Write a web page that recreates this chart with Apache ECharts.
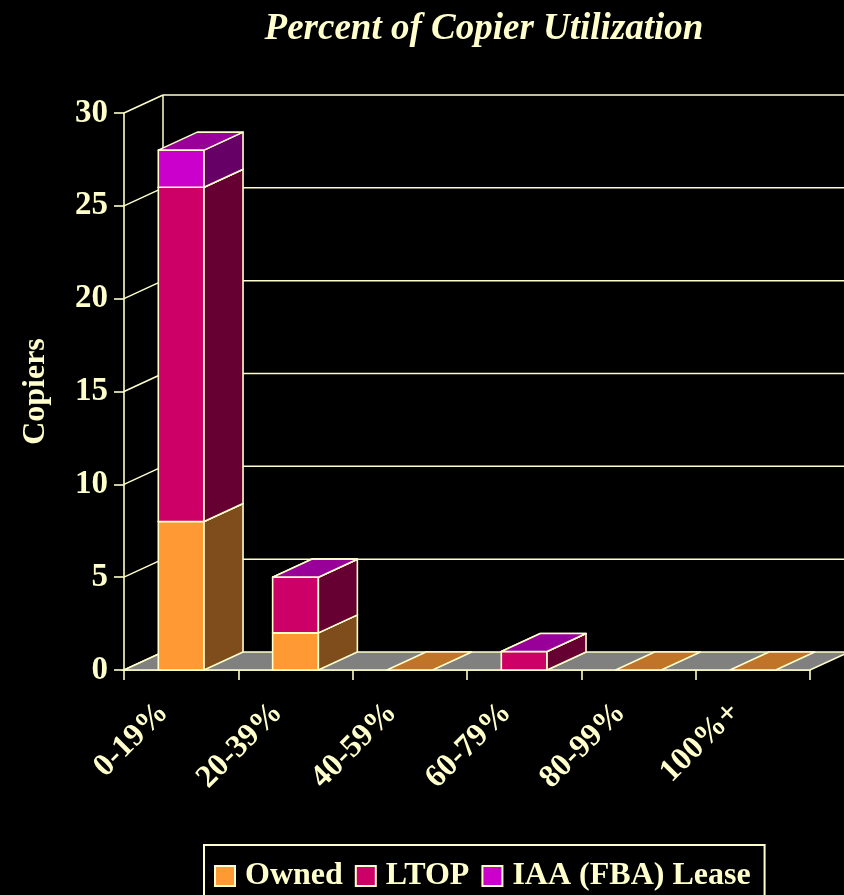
<!DOCTYPE html>
<html>
<head>
<meta charset="utf-8">
<script src="https://cdn.jsdelivr.net/npm/echarts@6/dist/echarts.min.js"></script>
<style>
  html, body { margin: 0; padding: 0; background: #000; }
  #chart { width: 844px; height: 895px; }
</style>
</head>
<body>
<div id="chart"></div>
<script>
// Copier counts per utilization band
const categories = ['0-19%', '20-39%', '40-59%', '60-79%', '80-99%', '100%+'];
const owned = [8, 2, 0, 0, 0, 0];
const ltop  = [18, 3, null, 1, null, null];
const iaa   = [2, 0, null, 0, null, null];
const yTicks = [0, 5, 10, 15, 20, 25, 30];

const INK = '#FFFFCC';
const FONT = '"Liberation Serif", "Times New Roman", serif';
const DX = 39, DY = -18;       // depth offset of the 3D box
const BAR_RATIO = 0.4;

// stack segments: [categoryIndex, bottom, top]
function stackSegments(layer, below) {
  const out = [];
  layer.forEach((v, i) => {
    if (v === null) return;
    let base = 0;
    below.forEach(arr => { if (arr[i] !== null) base += arr[i]; });
    out.push([i, base, base + v]);
  });
  return out;
}

function boxRenderer(front, side, top) {
  return function (params, api) {
    const ci = api.value(0);
    const p0 = api.coord([ci, api.value(1)]);
    const p1 = api.coord([ci, api.value(2)]);
    const bw = api.size([1, 0])[0] * BAR_RATIO;
    const xL = p0[0] - bw / 2, xR = p0[0] + bw / 2, yB = p0[1], yT = p1[1];
    const st = (fill) => ({ fill: fill, stroke: INK, lineWidth: 1.6, lineJoin: 'round' });
    const children = [];
    if (yB - yT > 0.5) {
      children.push({ type: 'polygon', shape: { points: [[xL, yB], [xR, yB], [xR, yT], [xL, yT]] }, style: st(front) });
      children.push({ type: 'polygon', shape: { points: [[xR, yB], [xR + DX, yB + DY], [xR + DX, yT + DY], [xR, yT]] }, style: st(side) });
    }
    children.push({ type: 'polygon', shape: { points: [[xL, yT], [xR, yT], [xR + DX, yT + DY], [xL + DX, yT + DY]] }, style: st(top) });
    return { type: 'group', children: children };
  };
}

// back wall grid lines and their connectors to the front axis
function wallRenderer(params, api) {
  const v = api.value(1);
  const bw = api.size([1, 0])[0];
  const pL = api.coord([0, v]);
  const pR = api.coord([categories.length - 1, v]);
  const x0 = pL[0] - bw / 2, x1 = pR[0] + bw / 2, y = pL[1];
  const ls = { stroke: INK, lineWidth: 1.5 };
  const children = [
    { type: 'line', shape: { x1: x0, y1: y, x2: x0 + DX, y2: y + DY }, style: ls }
  ];
  if (v > 0) {
    children.push({ type: 'line', shape: { x1: x0 + DX, y1: y + DY, x2: x1 + DX, y2: y + DY }, style: ls });
  }
  return { type: 'group', children: children };
}

function floorRenderer(params, api) {
  const bw = api.size([1, 0])[0];
  const pL = api.coord([0, 0]);
  const pR = api.coord([categories.length - 1, 0]);
  const pT = api.coord([0, yTicks[yTicks.length - 1]]);
  const x0 = pL[0] - bw / 2, x1 = pR[0] + bw / 2, y = pL[1];
  return {
    type: 'group',
    children: [
      { type: 'line', shape: { x1: x0 + DX, y1: y + DY, x2: x0 + DX, y2: pT[1] + DY }, style: { stroke: INK, lineWidth: 1.5 } },
      { type: 'polygon', shape: { points: [[x0, y], [x1, y], [x1 + DX, y + DY], [x0 + DX, y + DY]] },
        style: { fill: '#808080', stroke: INK, lineWidth: 1.6 } }
    ]
  };
}

const chart = echarts.init(document.getElementById('chart'));
chart.setOption({
  backgroundColor: '#000000',
  animation: false,
  title: {
    text: 'Percent of Copier Utilization',
    left: 484, top: 11, textAlign: 'center', padding: 0,
    textStyle: { color: INK, fontFamily: FONT, fontSize: 37, fontWeight: 'bold', fontStyle: 'italic' }
  },
  legend: {
    data: ['Owned', 'LTOP', 'IAA (FBA) Lease'],
    left: 204, top: 845,
    borderColor: INK, borderWidth: 2,
    padding: [15, 14, 30, 10],
    itemWidth: 20, itemHeight: 20, itemGap: 12,
    icon: 'rect',
    textStyle: { color: INK, fontFamily: FONT, fontSize: 32, fontWeight: 'bold', padding: [0, 0, 0, 5] }
  },
  grid: { left: 124, right: 34, top: 113, bottom: 225 },
  xAxis: {
    type: 'category',
    data: categories,
    axisLine: { lineStyle: { color: INK, width: 1.6 } },
    axisTick: { show: true, length: 10, interval: 0, lineStyle: { color: INK, width: 1.6 } },
    axisLabel: { rotate: 45, interval: 0, margin: 20, padding: [0, 25, 0, 0], color: INK, fontFamily: FONT, fontSize: 32, fontWeight: 'bold' },
    splitLine: { show: false }
  },
  yAxis: {
    type: 'value',
    min: 0, max: 30, interval: 5,
    name: 'Copiers', nameLocation: 'middle', nameRotate: 90, nameGap: 72,
    nameTextStyle: { color: INK, fontFamily: FONT, fontSize: 32, fontWeight: 'bold' },
    axisLine: { show: true, lineStyle: { color: INK, width: 1.6 } },
    axisTick: { show: true, length: 10, lineStyle: { color: INK, width: 1.6 } },
    axisLabel: { margin: 16, color: INK, fontFamily: FONT, fontSize: 33, fontWeight: 'bold' },
    splitLine: { show: false }
  },
  series: [
    { type: 'custom', name: 'walls', silent: true, z: 1, renderItem: wallRenderer,
      data: yTicks.map(v => [0, v]), encode: { x: 0, y: 1 } },
    { type: 'custom', name: 'floor', silent: true, z: 1, renderItem: floorRenderer,
      data: [[0, 0]], encode: { x: 0, y: 1 } },
    { type: 'custom', name: 'Owned', z: 3,
      itemStyle: { color: '#FF9933', borderColor: INK, borderWidth: 1 },
      renderItem: boxRenderer('#FF9933', '#7F4C1C', '#C07428'),
      data: stackSegments(owned, []), encode: { x: 0, y: [1, 2] } },
    { type: 'custom', name: 'LTOP', z: 4,
      itemStyle: { color: '#CC0066', borderColor: INK, borderWidth: 1 },
      renderItem: boxRenderer('#CC0066', '#660033', '#99004D'),
      data: stackSegments(ltop, [owned]), encode: { x: 0, y: [1, 2] } },
    { type: 'custom', name: 'IAA (FBA) Lease', z: 5,
      itemStyle: { color: '#CC00CC', borderColor: INK, borderWidth: 1 },
      renderItem: boxRenderer('#CC00CC', '#660066', '#990099'),
      data: stackSegments(iaa, [owned, ltop]), encode: { x: 0, y: [1, 2] } }
  ]
});
</script>
</body>
</html>
